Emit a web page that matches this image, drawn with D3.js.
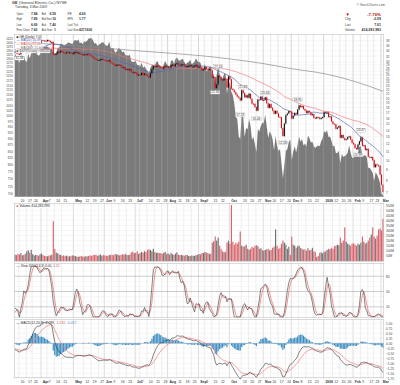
<!DOCTYPE html>
<html>
<head>
<meta charset="utf-8">
<script src="https://cdn.jsdelivr.net/npm/d3@7/dist/d3.min.js"></script>
<style>
html,body{margin:0;padding:0;background:#fff;}
svg{display:block;font-family:"Liberation Sans","DejaVu Sans",Arial,sans-serif;}
</style>
</head>
<body>
<svg id="chart" width="400" height="385"></svg>
<script>
// ================= DATA =================
const startDate = "2008-03-05";
const endDate = "2009-03-03";
const holidays = ["2008-03-21","2008-05-26","2008-07-04","2008-09-01","2008-11-27","2008-12-25","2009-01-01","2009-01-19","2009-02-16"];

// GE closes before the visible window (Jan 2 - Mar 4 2008), used for indicator warm-up
const priorClose = [36.48,36.10,35.22,35.37,34.61,35.33,35.80,35.55,36.07,34.54,34.50,33.06,32.56,33.23,34.47,35.11,34.20,34.57,35.05,35.22,35.41,
  35.58,35.05,33.96,33.63,33.70,33.54,33.66,34.18,33.93,34.32,33.81,33.92,34.10,34.40,34.62,34.20,34.51,34.30,33.55,33.14,
  33.21,33.38];

// GE daily closes, Mar 5 2008 - Mar 3 2009
const geClose = [
  33.60,33.02,32.80,32.65,33.60,33.46,33.85,33.28,33.55,35.48,35.40,36.60,37.30,37.55,37.60,37.10,36.80,37.01,            // Mar
  38.25,38.05,37.95,37.80,38.30,37.90,37.35,37.45,32.65,32.50,32.90,33.60,33.30,33.90,33.55,33.20,33.05,33.40,33.25,33.35,33.10,32.70, // Apr
  33.40,33.50,33.10,33.20,32.80,32.75,32.30,32.60,32.45,32.70,32.65,32.20,31.90,31.45,31.10,30.85,30.55,30.60,30.80,30.95,30.72, // May
  30.50,30.35,30.20,30.55,29.75,29.40,29.25,28.70,28.95,29.10,29.00,28.40,28.10,28.20,27.55,27.70,27.30,27.65,26.75,26.60,26.69, // Jun
  26.55,25.85,26.00,25.90,26.50,25.95,26.30,25.90,25.55,25.20,26.40,27.60,28.60,28.40,28.65,28.80,28.35,28.30,27.80,28.30,28.65,28.30, // Jul
  28.40,28.15,28.90,29.05,28.55,29.25,29.55,29.00,28.80,29.10,29.25,28.60,28.40,28.55,28.65,28.95,28.40,28.45,28.70,28.95,28.10, // Aug
  28.45,28.20,27.35,27.55,28.30,27.60,27.55,27.70,27.35,25.20,25.30,22.40,23.30,25.75,25.40,24.60,24.40,24.85,24.80,22.55,25.50, // Sep
  24.70,22.20,21.90,21.40,20.80,20.35,20.05,19.50,21.85,21.20,20.20,20.65,20.10,21.00,19.85,18.80,18.75,18.10,17.40,19.70,19.60,20.35,19.51, // Oct
  19.60,20.20,18.90,17.95,18.70,17.95,17.40,16.80,17.35,16.85,16.20,16.15,14.30,13.10,15.05,16.55,16.85,17.30,17.20, // Nov
  15.92,16.45,16.95,16.70,17.60,18.45,18.10,18.30,17.70,17.40,16.95,17.35,17.10,16.55,16.75,16.05,15.95,16.20,16.10,15.85,16.02,16.20, // Dec
  17.10,16.95,17.05,16.20,16.30,15.40,15.00,14.95,14.20,14.40,14.65,12.85,13.25,12.80,12.55,12.65,12.95,13.05,12.60,12.13, // Jan
  11.95,11.45,11.30,11.90,12.35,12.90,11.75,11.80,11.20,11.35,10.40,10.30,10.35,10.00,9.25,9.55,9.45,9.40,8.51, // Feb
  7.60,7.01 // Mar
];

// S&P 500 ($SPX) daily closes, same dates
const spxClose = [
  1333,1304,1293,1273,1321,1309,1316,1288,1277,1330,1299,1330,1349,1352,1342,1325,1316,1323,
  1370,1368,1370,1371,1373,1365,1355,1361,1333,1329,1334,1365,1365,1391,1389,1376,1380,1389,1398,1396,1391,1386,
  1409,1414,1408,1418,1393,1398,1389,1404,1403,1409,1423,1425,1426,1413,1390,1394,1376,1385,1390,1398,1400,
  1385,1378,1377,1404,1361,1361,1358,1335,1339,1360,1360,1350,1337,1342,1318,1318,1315,1322,1283,1278,1280,
  1285,1261,1262,1253,1274,1245,1254,1239,1229,1215,1245,1261,1260,1261,1278,1283,1252,1257,1235,1264,1284,1267,
  1260,1249,1285,1290,1267,1297,1306,1290,1286,1293,1298,1279,1266,1275,1278,1292,1267,1271,1281,1301,1283,
  1278,1275,1237,1242,1268,1225,1233,1250,1252,1193,1214,1157,1207,1255,1208,1189,1186,1210,1213,1106,1166,
  1161,1115,1099,1056,996,985,910,899,1003,998,908,946,940,986,955,896,908,877,848,941,930,954,969,
  966,1006,953,904,931,920,898,853,912,873,850,859,807,752,800,852,858,887,896,
  816,849,870,846,876,909,888,899,873,880,869,913,904,885,888,871,863,869,873,870,890,903,
  932,927,935,907,910,891,871,872,843,844,851,805,840,828,832,836,845,874,845,826,
  825,838,832,845,869,870,827,834,835,827,789,788,780,770,743,773,764,752,735,
  700,696
];

// GE daily volume, millions of shares
const volumeM = [
  62,58,70,64,78,55,60,72,95,105,82,110,68,54,60,58,52,66,
  74,58,50,48,46,52,55,62,390,118,82,75,65,60,50,56,48,52,46,45,50,55,
  52,48,44,40,46,50,44,42,48,45,50,55,48,60,58,62,50,56,64,52,58,
  55,52,50,58,62,60,58,70,64,62,55,60,66,62,72,60,58,62,85,92,78,
  80,95,70,78,90,82,96,88,110,115,108,96,120,88,80,82,78,76,72,80,90,70,
  75,62,80,66,60,72,85,62,58,60,55,52,60,58,50,48,55,52,50,58,62,
  68,66,80,78,90,82,78,70,72,180,195,240,200,230,150,120,95,85,90,180,200,
  170,550,190,160,180,170,190,290,150,140,145,160,120,110,120,140,130,150,155,145,120,125,110,
  100,110,115,120,105,110,130,140,310,150,120,130,170,200,180,160,120,140,60,
  240,160,150,130,145,150,130,120,110,115,100,125,105,110,130,95,90,40,50,80,85,75,
  90,95,110,120,115,130,120,145,150,160,155,230,180,200,330,190,170,160,150,170,
  175,160,150,170,160,180,240,190,170,180,200,230,260,330,240,220,250,310,320,
  300,414
];

// 200-day moving average of GE (read at month starts)
const ma200Dates  = ["2008-03-05","2008-04-01","2008-05-01","2008-06-02","2008-07-01","2008-08-01","2008-09-02","2008-10-01","2008-11-03","2008-12-01","2009-01-02","2009-02-02","2009-03-03"];
const ma200Values = [37.2,36.8,35.9,35.0,34.0,33.1,32.2,31.0,29.4,27.8,26.3,24.2,21.6];

// date axis ticks
const tickDates = ["2008-03-10","2008-03-17","2008-03-24","2008-04-01","2008-04-07","2008-04-14","2008-04-21","2008-05-01","2008-05-12","2008-05-19","2008-05-27","2008-06-02","2008-06-09","2008-06-16","2008-06-23","2008-07-01","2008-07-07","2008-07-14","2008-07-21","2008-07-28","2008-08-01","2008-08-11","2008-08-18","2008-08-25","2008-09-02","2008-09-08","2008-09-15","2008-09-22","2008-10-01","2008-10-13","2008-10-20","2008-10-27","2008-11-03","2008-11-10","2008-11-17","2008-11-24","2008-12-01","2008-12-08","2008-12-15","2008-12-22","2009-01-02","2009-01-12","2009-01-20","2009-01-26","2009-02-02","2009-02-09","2009-02-17","2009-02-23","2009-03-02"];
const tickLabels = ["10","17","24","Apr","7","14","21","May","12","19","27","Jun","9","16","23","Jul","7","14","21","28","Aug","11","18","25","Sep","8","15","22","Oct","13","20","27","Nov","10","17","24","Dec","8","15","22","2009","12","20","26","Feb","9","17","23","Mar"];

const priceTicks = [7,8,9,10,11,12,13,14,15,16,17,18,19,20,21,22,23,24,25,26,27,28,29,30,32,34,36,38];
const spxTicks = [700,725,750,775,800,825,850,875,900,925,950,975,1000,1025,1050,1075,1100,1125,1150,1175,1200,1225,1250,1275,1300,1325,1350,1375,1400,1425];
const volTicks = [50,100,150,200,250,300,350,400,450,500,550];
const stochTicks = [20,50,80];
const macdTicks = [1,0.75,0.5,0.25,0,-0.25,-0.5,-0.75,-1,-1.25,-1.5,-1.75];

// price annotations (highs/lows)
const annDates  = ["2008-03-10","2008-09-17","2008-09-19","2008-10-10","2008-10-14","2008-10-27","2008-11-04","2008-11-20","2008-12-05","2009-02-05","2009-02-09"];
const annValues = [32.38,22.16,27.43,17.19,21.84,16.46,20.45,12.58,18.95,10.99,13.47];
const annSide   = ["below","below","above","below","above","below","above","below","above","below","above"];

// ================= DERIVED =================
const parse = d3.timeParse("%Y-%m-%d"), fmtD = d3.timeFormat("%Y-%m-%d");
const hol = new Set(holidays);
const days = d3.timeDay.range(parse(startDate), d3.timeDay.offset(parse(endDate), 1))
  .filter(d => d.getDay() !== 0 && d.getDay() !== 6 && !hol.has(fmtD(d))).map(fmtD);

const allClose = priorClose.concat(geClose);
const P = priorClose.length;
const prevClose = geClose.map((c, i) => allClose[i + P - 1]);
const isUp = geClose.map((c, i) => c >= prevClose[i]);

const smaAt = (arr, n, i) => d3.mean(arr.slice(Math.max(0, i - n + 1), i + 1));
const ma20 = geClose.map((_, i) => smaAt(allClose, 20, i + P));
const ma50 = geClose.map((_, i) => smaAt(allClose, 50, i + P));
function ema(arr, n) { const k = 2 / (n + 1), out = []; arr.forEach((v, i) => out.push(i ? v * k + out[i - 1] * (1 - k) : v)); return out; }
const e12 = ema(allClose, 12), e26 = ema(allClose, 26);
const macdAll = e12.map((v, i) => v - e26[i]);
const sigAll = ema(macdAll, 9);
const macd = macdAll.slice(P), signal = sigAll.slice(P), hist = macd.map((v, i) => v - signal[i]);
const fastK = allClose.map((c, i) => { const w = allClose.slice(Math.max(0, i - 13), i + 1); const lo = d3.min(w), hi = d3.max(w); return hi > lo ? (c - lo) / (hi - lo) * 100 : 50; });
const smaArr = (a, n) => a.map((_, i) => smaAt(a, n, i));
const slowKAll = smaArr(fastK, 3), slowDAll = smaArr(slowKAll, 3);
const slowK = slowKAll.slice(P), slowD = slowDAll.slice(P);

// ================= LAYOUT =================
const svg = d3.select("#chart");
const X0 = 14, X1 = 384;
const PR = [34, 197], VO = [203, 262], ST = [263, 318], MA = [319, 378];
const x = d3.scalePoint().domain(days).range([15, 383]);
const yP = d3.scaleLog().domain([6.63, 40.5]).range([PR[1], PR[0] + 1]);
const yS = d3.scaleLog().domain([690, 1440]).range([PR[1], PR[0] + 2]);
const yV = d3.scaleLinear().domain([0, 570]).range([261, VO[0]]);
const yK = d3.scaleLinear().domain([0, 100]).range([317, 266]);
const yM = d3.scaleLinear().domain([-1.75, 1.00]).range([378.3, 323.3]);

const isMonth = l => isNaN(+l) || l === "2009";
const fmt2 = d3.format(".2f");
const txtCol = "#333";

function panelBg(r) {
  svg.append("rect").attr("x", X0).attr("y", r[0]).attr("width", X1 - X0).attr("height", r[1] - r[0])
    .attr("fill", "#fff");
}
function vGrid(r, g) {
  g.selectAll(null).data(tickDates).join("line")
    .attr("x1", d => x(d) - 0.5).attr("x2", d => x(d) - 0.5).attr("y1", r[0]).attr("y2", r[1])
    .attr("stroke", (d, i) => isMonth(tickLabels[i]) ? "#c4c4c4" : "#e2e2e2").attr("stroke-width", 0.6);
}
function hGrid(r, g, vals, sc, col) {
  g.selectAll(null).data(vals).join("line")
    .attr("x1", X0).attr("x2", X1).attr("y1", d => sc(d)).attr("y2", d => sc(d))
    .attr("stroke", col || "#ececec").attr("stroke-width", 0.5);
}
function border(r) {
  svg.append("rect").attr("x", X0 + 0.25).attr("y", r[0] + 0.25).attr("width", X1 - X0 - 0.5).attr("height", r[1] - r[0] - 0.5)
    .attr("fill", "none").attr("stroke", "#b8b8b8").attr("stroke-width", 0.5);
}
function rightAxis(sc, vals, fmt, fs) {
  const g = svg.append("g").attr("transform", `translate(${X1},0)`)
    .call(d3.axisRight(sc).tickValues(vals).tickFormat(fmt).tickSize(0).tickPadding(2));
  g.select(".domain").remove();
  g.selectAll("text").attr("font-size", fs || 3.2).attr("fill", "#444").attr("font-family", "Liberation Sans, Arial, sans-serif");
  return g;
}
function dateAxis(yPos) {
  const g = svg.append("g").attr("transform", `translate(0,${yPos})`)
    .call(d3.axisBottom(x).tickValues(tickDates).tickFormat((d, i) => tickLabels[i]).tickSize(0).tickPadding(0));
  g.select(".domain").remove();
  g.selectAll("text").attr("font-size", 3.4).attr("fill", "#333").attr("text-anchor", "start").attr("dx", 0.8)
    .attr("font-weight", (d, i) => isMonth(tickLabels[i]) ? "bold" : "normal")
    .attr("font-family", "Liberation Sans, Arial, sans-serif");
}

// ================= HEADER =================
const hdr = svg.append("g").attr("font-size", 3.8).attr("fill", txtCol);
hdr.append("text").attr("x", 12).attr("y", 4.2).attr("font-weight", "bold").text("GE");
hdr.append("text").attr("x", 19).attr("y", 4.2).text("(General Electric Co.) NYSE");
hdr.append("text").attr("x", 15).attr("y", 7.8).attr("font-size", 3.4).text("Tuesday, 3-Mar-2009");
const rows = [
  ["Open", "7.84", "Bid", "6.59", "P/E", "4.60"],
  ["High", "7.89", "Bid Size", "10", "EPS", "1.77"],
  ["Low", "6.69", "Ask", "7.40", "Last Tick", ""],
  ["Prev Close", "7.60", "Ask Size", "1", "Last Size", "4271600"]
];
const rowY = [15.2, 20.4, 25.5, 30.6];
rows.forEach((r, i) => {
  hdr.append("text").attr("x", 16.5).attr("y", rowY[i]).attr("font-size", 2.7).text(r[0]);
  hdr.append("text").attr("x", 37.5).attr("y", rowY[i]).attr("text-anchor", "end").attr("font-size", 3.4).attr("font-weight", "bold").text(r[1]);
  hdr.append("text").attr("x", 41.8).attr("y", rowY[i]).attr("font-size", 2.7).text(r[2]);
  hdr.append("text").attr("x", 56).attr("y", rowY[i]).attr("text-anchor", "end").attr("font-size", 3.4).attr("font-weight", "bold").text(r[3]);
  hdr.append("text").attr("x", 67.5).attr("y", rowY[i]).attr("font-size", 2.7).text(r[4]);
  hdr.append("text").attr("x", 79).attr("y", rowY[i]).attr("font-size", 3.4).attr("font-weight", "bold").text(r[5]);
});
hdr.append("text").attr("x", 81).attr("y", 25.8).attr("fill", "#c00").attr("font-weight", "bold").text("↓");
hdr.append("text").attr("x", 385).attr("y", 5.5).attr("text-anchor", "end").attr("font-size", 3.3).attr("fill", "#555").text("© StockCharts.com");
hdr.append("text").attr("x", 345.5).attr("y", 15.5).attr("fill", "#a00").attr("font-size", 4.4).text("▼");
hdr.append("text").attr("x", 381).attr("y", 15.5).attr("text-anchor", "end").attr("fill", "#b01020").attr("font-size", 4.4).attr("font-weight", "bold").text("-7.76%");
[["Chg", "-0.59", 20.4], ["Last", "7.01", 25.5], ["Volume", "414,283,993", 30.6]].forEach(r => {
  hdr.append("text").attr("x", 345).attr("y", r[2]).attr("font-size", 3.0).text(r[0]);
  hdr.append("text").attr("x", 381).attr("y", r[2]).attr("text-anchor", "end").attr("font-size", 3.5).attr("font-weight", "bold").text(r[1]);
});

// ================= PRICE PANEL =================
panelBg(PR);
const gP = svg.append("g");
vGrid(PR, gP);
hGrid(PR, gP, priceTicks, yP, "#ededed");
// SPX area
const area = d3.area().x((d, i) => x(days[i])).y0(PR[1]).y1(d => yS(d));
svg.append("path").datum(spxClose).attr("d", area).attr("fill", "#7b7b7b");
// faint grid over area
const gP2 = svg.append("g").attr("opacity", 0.35);
vGrid(PR, gP2);
// MAs
const lineFrom = arr => d3.line().x((d, i) => x(days[i])).y(d => yP(d))(arr);
svg.append("path").attr("d", d3.line().curve(d3.curveMonotoneX).x((d, i) => x(ma200Dates[i])).y(d => yP(d))(ma200Values))
  .attr("fill", "none").attr("stroke", "#8a8a8a").attr("stroke-width", 0.7);
svg.append("path").attr("d", lineFrom(ma50)).attr("fill", "none").attr("stroke", "#f07878").attr("stroke-width", 0.7);
svg.append("path").attr("d", lineFrom(ma20)).attr("fill", "none").attr("stroke", "#5a66b0").attr("stroke-width", 0.7);
// candles (body from previous close to close)
svg.append("g").selectAll("rect").data(geClose).join("rect")
  .attr("x", (d, i) => x(days[i]) - 0.55).attr("width", 1.1)
  .attr("y", (d, i) => yP(Math.max(d, prevClose[i])))
  .attr("height", (d, i) => Math.max(0.9, yP(Math.min(d, prevClose[i])) - yP(Math.max(d, prevClose[i]))))
  .attr("fill", (d, i) => isUp[i] ? "#111" : "#e0101e");
svg.append("g").selectAll("line").data(geClose).join("line")
  .attr("x1", (d, i) => x(days[i])).attr("x2", (d, i) => x(days[i]))
  .attr("y1", (d, i) => yP(Math.max(d, prevClose[i])) - 0.8)
  .attr("y2", (d, i) => yP(Math.min(d, prevClose[i])) + 0.8)
  .attr("stroke", (d, i) => isUp[i] ? "#111" : "#c00").attr("stroke-width", 0.35);
// annotations
const gA = svg.append("g");
annDates.forEach((d, i) => {
  const cy = yP(annValues[i]) + (annSide[i] === "above" ? -3.2 : 3.2);
  const t = gA.append("text").attr("x", x(d)).attr("y", cy + 1.1).attr("text-anchor", "middle")
    .attr("font-size", 3.1).attr("fill", "#333").text(fmt2(annValues[i]));
  const w = t.node().getComputedTextLength() + 1.6;
  gA.insert("rect", "text").attr("x", x(d) - w / 2).attr("y", cy - 1.9).attr("width", w).attr("height", 3.8)
    .attr("fill", "#fff").attr("stroke", "#999").attr("stroke-width", 0.3);
});
gA.selectAll("rect").lower(); gA.selectAll("text").raise();
// legend
const gL = svg.append("g").attr("font-size", 3.3);
const leg = [
  ["■ GE (Daily) " + fmt2(geClose[geClose.length - 1]), "#222"],
  ["— MA(20) " + fmt2(ma20[ma20.length - 1]), "#4a56a8"],
  ["— MA(50) " + fmt2(ma50[ma50.length - 1]), "#e04848"],
  ["— MA(200) " + fmt2(ma200Values[ma200Values.length - 1]), "#666"],
  ["■ $SPX (Daily) " + spxClose[spxClose.length - 1].toFixed(2), "#555"]
];
leg.forEach((l, i) => {
  const y = 37.6 + i * 3.7;
  const t = gL.append("text").attr("x", 16.5).attr("y", y).attr("fill", l[1]).text(l[0]);
  const w = t.node().getComputedTextLength() + 1.5;
  gL.insert("rect", "text").attr("x", 15.8).attr("y", y - 2.9).attr("width", w).attr("height", 3.6)
    .attr("fill", "#fff").attr("opacity", 0.85);
});
border(PR);
rightAxis(yP, priceTicks, d => d, 3.0);
const gLeft = svg.append("g").attr("transform", `translate(${X0},0)`)
  .call(d3.axisLeft(yS).tickValues(spxTicks).tickFormat(d => d).tickSize(0).tickPadding(1.2));
gLeft.select(".domain").remove();
gLeft.selectAll("text").attr("font-size", 3.0).attr("fill", "#444");
dateAxis(199.3);

// ================= VOLUME PANEL =================
panelBg(VO);
const gV = svg.append("g");
vGrid(VO, gV);
hGrid(VO, gV, volTicks, yV);
svg.append("g").selectAll("rect").data(volumeM).join("rect")
  .attr("x", (d, i) => x(days[i]) - 0.55).attr("width", 1.15)
  .attr("y", d => yV(d)).attr("height", d => yV(0) - yV(d))
  .attr("fill", (d, i) => isUp[i] ? "#6f6f6f" : "#d8646c");
svg.append("rect").attr("x", 15.8).attr("y", 204.3).attr("width", 34).attr("height", 3.8).attr("fill", "#fff").attr("opacity", 0.85);
svg.append("text").attr("x", 16.5).attr("y", 207.3).attr("font-size", 3.3).attr("fill", "#222")
  .html('<tspan fill="#d8646c">■</tspan> Volume 414,283,993');
border(VO);
rightAxis(yV, volTicks, d => d + "M", 3.2);

// ================= STOCH PANEL =================
panelBg(ST);
const gS = svg.append("g");
vGrid(ST, gS);
hGrid(ST, gS, [10, 30, 40, 60, 70, 90], yK, "#efefef");
hGrid(ST, gS, stochTicks, yK, "#9a9a9a");
const lineK = arr => d3.line().x((d, i) => x(days[i])).y(d => yK(d))(arr);
svg.append("path").attr("d", lineK(slowD)).attr("fill", "none").attr("stroke", "#f07070").attr("stroke-width", 0.75);
svg.append("path").attr("d", lineK(slowK)).attr("fill", "none").attr("stroke", "#333").attr("stroke-width", 0.6);
svg.append("text").attr("x", 16.5).attr("y", 267.2).attr("font-size", 3.3).attr("fill", "#333")
  .html('— Slow STO(14,3) ' + fmt2(slowK[slowK.length - 1]) + ', <tspan fill="#e05050">' + fmt2(slowD[slowD.length - 1]) + '</tspan>');
border(ST);
rightAxis(yK, stochTicks, d => d, 3.2);

// ================= MACD PANEL =================
panelBg(MA);
const gM = svg.append("g");
vGrid(MA, gM);
hGrid(MA, gM, macdTicks, yM, "#ececec");
svg.append("line").attr("x1", X0).attr("x2", X1).attr("y1", yM(0)).attr("y2", yM(0)).attr("stroke", "#aaa").attr("stroke-width", 0.5);
svg.append("g").selectAll("rect").data(hist).join("rect")
  .attr("x", (d, i) => x(days[i]) - 0.6).attr("width", 1.2)
  .attr("y", d => yM(Math.max(0, d))).attr("height", d => Math.abs(yM(d) - yM(0)))
  .attr("fill", "#3d8fc4");
const lineM = arr => d3.line().x((d, i) => x(days[i])).y(d => yM(d))(arr);
svg.append("path").attr("d", lineM(signal)).attr("fill", "none").attr("stroke", "#f08080").attr("stroke-width", 0.75);
svg.append("path").attr("d", lineM(macd)).attr("fill", "none").attr("stroke", "#333").attr("stroke-width", 0.6);
svg.append("text").attr("x", 16.5).attr("y", 324.3).attr("font-size", 3.3).attr("fill", "#333")
  .html('— MACD(12,26,9) -1.289, <tspan fill="#e05050">-1.232</tspan>, <tspan fill="#3d8fc4">-0.057</tspan>');
border(MA);
rightAxis(yM, macdTicks, d => d3.format(".2f")(d), 3.2);
dateAxis(380.3);
</script>
</body>
</html>
